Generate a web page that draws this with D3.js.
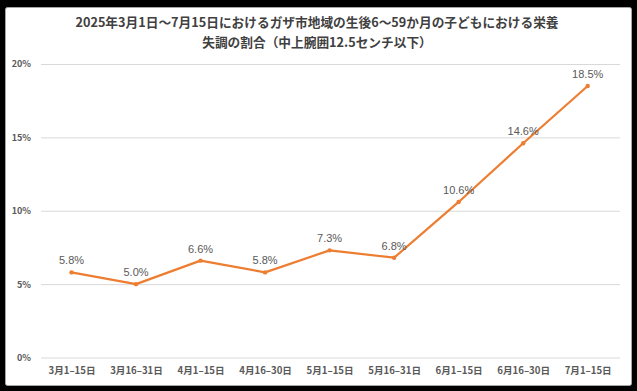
<!DOCTYPE html>
<html>
<head>
<meta charset="utf-8">
<script src="https://cdn.jsdelivr.net/npm/d3@7"></script>
<style>
  html, body { margin: 0; padding: 0; background: #000; }
  svg { display: block; }
</style>
</head>
<body>
<svg id="chart" width="637" height="391"></svg>
<script>
// data
var titleLines = ['2025年3月1日～7月15日におけるガザ市地域の生後6～59か月の子どもにおける栄養',
                  '失調の割合（中上腕囲12.5センチ以下）'];
var periods = ['3月1–15日', '3月16–31日', '4月1–15日', '4月16–30日', '5月1–15日',
               '5月16–31日', '6月1–15日', '6月16–30日', '7月1–15日'];
var rates = [5.8, 5.0, 6.6, 5.8, 7.3, 6.8, 10.6, 14.6, 18.5];
var yTicks = [0, 5, 10, 15, 20];

var svg = d3.select('#chart');
var font = '"Noto Sans CJK JP", "Noto Sans", sans-serif';

// white card on black
svg.append('rect')
  .attr('x', 5.5).attr('y', 7.5)
  .attr('width', 626).attr('height', 378)
  .attr('rx', 2)
  .attr('fill', '#fff')
  .attr('stroke', '#a6a6a6')
  .attr('stroke-width', 1);

// title
svg.append('g').selectAll('text')
  .data(titleLines)
  .enter().append('text')
  .attr('x', 317)
  .attr('y', function(d, i) { return 26.5 + i * 20.5; })
  .attr('text-anchor', 'middle')
  .attr('font-family', font)
  .attr('font-weight', 'bold')
  .attr('font-size', '12.7px')
  .attr('fill', '#404040')
  .text(function(d) { return d; });

var x = d3.scalePoint()
  .domain(periods)
  .range([71.5, 587.7]);

var y = d3.scaleLinear()
  .domain([0, 20])
  .range([357.5, 64]);

// gridlines + y labels
var yAxis = svg.append('g')
  .attr('transform', 'translate(41,0)')
  .call(d3.axisLeft(y)
    .tickValues(yTicks)
    .tickSize(-579)
    .tickPadding(10)
    .tickFormat(function(d) { return d + '%'; }));
yAxis.select('.domain').remove();
yAxis.selectAll('line').attr('stroke', '#d9d9d9').attr('stroke-width', 1);
yAxis.selectAll('text')
  .attr('font-family', font)
  .attr('font-weight', 'bold')
  .attr('font-size', '9px')
  .attr('fill', '#595959');

// x labels
var xAxis = svg.append('g')
  .attr('transform', 'translate(0,357.5)')
  .call(d3.axisBottom(x).tickSize(0).tickPadding(10));
xAxis.select('.domain').remove();
xAxis.selectAll('text')
  .attr('font-family', font)
  .attr('font-weight', 'bold')
  .attr('font-size', '9.6px')
  .attr('fill', '#595959');

// line
var line = d3.line()
  .x(function(d, i) { return x(periods[i]); })
  .y(function(d) { return y(d); });

svg.append('path')
  .attr('d', line(rates))
  .attr('fill', 'none')
  .attr('stroke', '#ed7d31')
  .attr('stroke-width', 2.2)
  .attr('stroke-linejoin', 'round');

svg.append('g').selectAll('circle')
  .data(rates)
  .enter().append('circle')
  .attr('cx', function(d, i) { return x(periods[i]); })
  .attr('cy', function(d) { return y(d); })
  .attr('r', 2.2)
  .attr('fill', '#ed7d31');

// value labels
svg.append('g').selectAll('text')
  .data(rates)
  .enter().append('text')
  .attr('x', function(d, i) { return x(periods[i]); })
  .attr('y', function(d) { return y(d) - 8; })
  .attr('text-anchor', 'middle')
  .attr('font-family', '"Liberation Sans", Arial, sans-serif')
  .attr('font-size', '11px')
  .attr('fill', '#595959')
  .text(function(d) { return d.toFixed(1) + '%'; });
</script>
</body>
</html>
